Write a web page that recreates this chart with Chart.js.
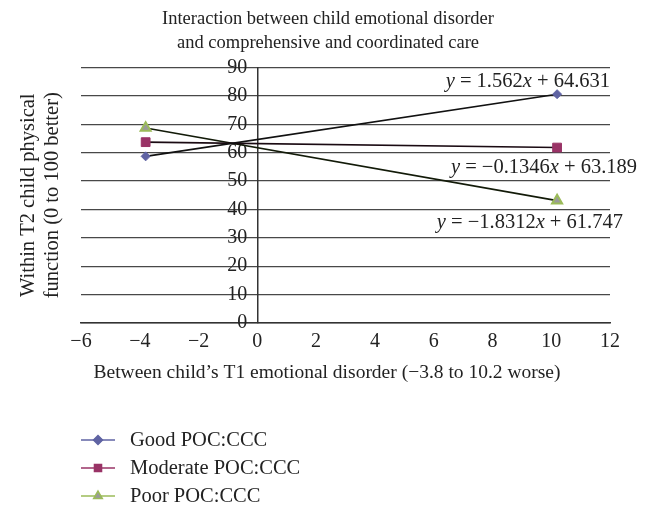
<!DOCTYPE html>
<html>
<head>
<meta charset="utf-8">
<script src="https://cdn.jsdelivr.net/npm/chart.js@4.4.0/dist/chart.umd.min.js"></script>
<style>
  html, body { margin: 0; padding: 0; background: #fff; }
  #wrap { width: 648px; height: 508px; }
</style>
</head>
<body>
<div id="wrap"><canvas id="grafico" width="648" height="508"></canvas></div>
<script>
// Datos
var xValues = [-3.8, 10.2];
var goodValues = [58.7, 80.6];
var moderateValues = [63.7, 61.8];
var poorValues = [68.7, 43.1];

var seriesNames = ['Good POC:CCC', 'Moderate POC:CCC', 'Poor POC:CCC'];
var seriesColors = ['#5f63a3', '#993366', '#9bbb59'];

var titleLines = ['Interaction between child emotional disorder', 'and comprehensive and coordinated care'];
var xTitle = 'Between child\u2019s T1 emotional disorder (\u22123.8 to 10.2 worse)';
var yTitleLines = ['Within T2 child physical', 'function (0 to 100 better)'];

// Ecuaciones de las rectas: pendiente, intercepto y punto de anclaje (valores de datos)
var eqSlopes = ['1.562', '\u22120.1346', '\u22121.8312'];
var eqIntercepts = ['64.631', '63.189', '61.747'];
var eqAnchorX = [12, 12.92, 12.44];
var eqAnchorY = [85, 54.8, 35.3];

var fuente = '"Liberation Serif", "Times New Roman", serif';
var colorTexto = '#222';

function puntos(ys) {
  return xValues.map(function (x, i) { return { x: x, y: ys[i] }; });
}

var data = {
  datasets: [{
    label: seriesNames[0],
    data: puntos(goodValues),
    borderColor: '#111',
    borderWidth: 1.6,
    pointStyle: 'rectRot',
    pointRadius: 4.5,
    pointBackgroundColor: seriesColors[0],
    pointBorderColor: seriesColors[0],
    pointBorderWidth: 1
  }, {
    label: seriesNames[1],
    data: puntos(moderateValues),
    borderColor: '#1a0a12',
    borderWidth: 1.6,
    pointStyle: 'rect',
    pointRadius: 6.2,
    pointBackgroundColor: seriesColors[1],
    pointBorderColor: seriesColors[1],
    pointBorderWidth: 1
  }, {
    label: seriesNames[2],
    data: puntos(poorValues),
    borderColor: '#121a08',
    borderWidth: 1.6,
    pointStyle: 'triangle',
    pointRadius: 5.8,
    pointBackgroundColor: '#9a9a9a',
    pointBorderColor: seriesColors[2],
    pointBorderWidth: 2
  }]
};

function textoRotado(ctx, txt, cx, cy) {
  ctx.save();
  ctx.translate(cx, cy);
  ctx.rotate(-Math.PI / 2);
  ctx.fillText(txt, 0, 0);
  ctx.restore();
}

// Plugin: títulos, ecuaciones y leyenda
var extras = {
  id: 'extras',
  afterDraw: function (chart) {
    var ctx = chart.ctx;
    var xs = chart.scales.x, ys = chart.scales.y;
    var area = chart.chartArea;
    ctx.save();
    ctx.fillStyle = colorTexto;
    ctx.textBaseline = 'middle';

    // título
    ctx.textAlign = 'center';
    ctx.font = '18.5px ' + fuente;
    ctx.fillText(titleLines[0], 328, 19);
    ctx.fillText(titleLines[1], 328, 43);

    // título eje X
    ctx.font = '19.5px ' + fuente;
    ctx.fillText(xTitle, 327, 373);

    // título eje Y
    ctx.font = '20.5px ' + fuente;
    var cy = (area.top + area.bottom) / 2;
    textoRotado(ctx, yTitleLines[0], 29, cy);
    textoRotado(ctx, yTitleLines[1], 53, cy);

    // ecuaciones
    ctx.textAlign = 'left';
    for (var i = 0; i < eqSlopes.length; i++) {
      var partes = [
        ['y', true], [' = ' + eqSlopes[i], false], ['x', true], [' + ' + eqIntercepts[i], false]
      ];
      var total = 0;
      partes.forEach(function (p) {
        ctx.font = (p[1] ? 'italic ' : '') + '20.5px ' + fuente;
        total += ctx.measureText(p[0]).width;
      });
      var px = xs.getPixelForValue(eqAnchorX[i]) - total;
      var py = ys.getPixelForValue(eqAnchorY[i]);
      partes.forEach(function (p) {
        ctx.font = (p[1] ? 'italic ' : '') + '20.5px ' + fuente;
        ctx.fillText(p[0], px, py);
        px += ctx.measureText(p[0]).width;
      });
    }

    // leyenda
    var ds = chart.data.datasets;
    ctx.font = '20.5px ' + fuente;
    var radios = [4.5, 5, 5];
    for (var j = 0; j < ds.length; j++) {
      var ly = 440 + j * 28;
      ctx.strokeStyle = seriesColors[j];
      ctx.lineWidth = 1.5;
      ctx.beginPath();
      ctx.moveTo(81, ly);
      ctx.lineTo(115, ly);
      ctx.stroke();
      ctx.fillStyle = j === 2 ? '#9a9a9a' : seriesColors[j];
      Chart.helpers.drawPoint(ctx, {
        pointStyle: ds[j].pointStyle,
        radius: radios[j],
        borderWidth: j === 2 ? 1.5 : 1
      }, 98, ly);
      ctx.fillStyle = colorTexto;
      ctx.fillText(ds[j].label, 130, ly + 1);
    }
    ctx.restore();
  }
};

var options = {
  responsive: false,
  animation: false,
  layout: {
    padding: { left: 81, right: 38, top: 67.5, bottom: 147 }
  },
  plugins: {
    legend: { display: false },
    tooltip: { enabled: false },
    title: { display: false }
  },
  scales: {
    x: {
      type: 'linear',
      min: -6,
      max: 12,
      ticks: {
        stepSize: 2,
        color: colorTexto,
        padding: 7,
        font: { family: fuente, size: 20 },
        callback: function (v) { return String(v).replace('-', '\u2212'); }
      },
      grid: { display: false, drawTicks: false },
      border: { display: true, color: '#333', width: 1.5 }
    },
    y: {
      type: 'linear',
      position: { x: 0 },
      min: 0,
      max: 90,
      ticks: {
        stepSize: 10,
        color: colorTexto,
        font: { family: fuente, size: 20 },
        // el eje centrado no aplica padding; se separa con espacios
        callback: function (v) { return v + '  '; }
      },
      grid: { color: '#484848', lineWidth: 1.3, drawTicks: false },
      border: { display: true, color: '#333', width: 1.5 }
    }
  }
};

var ctx = document.getElementById('grafico').getContext('2d');
var miGrafico = new Chart(ctx, {
  type: 'line',
  data: data,
  options: options,
  plugins: [extras]
});
</script>
</body>
</html>
